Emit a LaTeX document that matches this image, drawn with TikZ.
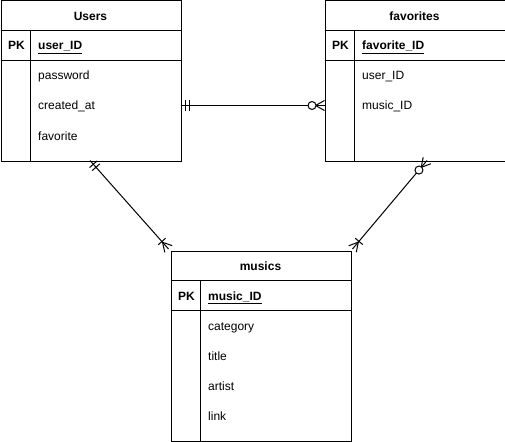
\documentclass[tikz,border=0pt]{standalone}
\usepackage{fontspec}
\setmainfont{Liberation Sans}
\usetikzlibrary{calc}
\tikzset{
  tbl/.style={draw, line width=1pt, minimum width=180pt, inner sep=0pt, anchor=north west},
  ttl/.style={font=\fontsize{12}{14}\selectfont\bfseries, inner sep=0pt},
  fld/.style={font=\fontsize{12}{14}\selectfont, anchor=base west, inner sep=0pt},
  pkl/.style={font=\fontsize{12}{14}\selectfont\bfseries, anchor=base west, inner sep=0pt},
  rel/.style={line width=1pt},
  sep/.style={line width=1pt},
}
\newcommand\erbar[3]{%
  \path ($(#1)!#3!(#2)$) coordinate (erm);
  \draw[rel] ($(erm)!5pt!90:(#2)$) -- ($(erm)!5pt!-90:(#2)$);}
\newcommand\erfoot[2]{%
  \draw[rel] ($(#1)!5pt!90:(#2)$) -- ($(#1)!9pt!(#2)$) -- ($(#1)!5pt!-90:(#2)$);}
\newcommand\ercirc[3]{%
  \path ($(#1)!#3!(#2)$) coordinate (erm);
  \draw[rel,fill=white] (erm) circle (4pt);}
\begin{document}
\begin{tikzpicture}[x=1pt,y=-1pt]
\useasboundingbox (0,0) rectangle (505,441);
% ---------- Users
\node[tbl, minimum height=160pt] (users) at (0.5,0.5) {};
\draw[sep] (0.5,30.5) -- (180.5,30.5);
\draw[sep] (0.5,60.5) -- (180.5,60.5);
\draw[sep] (30.5,30.5) -- (30.5,160.5);
\node[ttl] (usersT) at (90.5,16) {Users};
\node[pkl] (usersPK) at (8,50) {PK};
\node[pkl] (usersId) at (38,50) {\underline{user\_ID}};
\node[fld] (usersPw) at (38,80) {password};
\node[fld] (usersCr) at (38,110) {created\_at};
\node[fld] (usersFv) at (38,140) {favorite};
% ---------- favorites
\node[tbl, minimum height=160pt] (favs) at (324.5,0.5) {};
\draw[sep] (324.5,30.5) -- (504.5,30.5);
\draw[sep] (324.5,60.5) -- (504.5,60.5);
\draw[sep] (354.5,30.5) -- (354.5,160.5);
\node[ttl] (favsT) at (414.5,16) {favorites};
\node[pkl] (favsPK) at (332,50) {PK};
\node[pkl] (favsId) at (362,50) {\underline{favorite\_ID}};
\node[fld] (favsU) at (362,80) {user\_ID};
\node[fld] (favsM) at (362,110) {music\_ID};
% ---------- musics
\node[tbl, minimum height=190pt] (musics) at (170.5,250.5) {};
\draw[sep] (170.5,280.5) -- (350.5,280.5);
\draw[sep] (170.5,310.5) -- (350.5,310.5);
\draw[sep] (200.5,280.5) -- (200.5,440.5);
\node[ttl] (musicsT) at (260.5,266) {musics};
\node[pkl] (musicsPK) at (178,300) {PK};
\node[pkl] (musicsId) at (208,300) {\underline{music\_ID}};
\node[fld] (musicsC) at (208,330) {category};
\node[fld] (musicsTi) at (208,360) {title};
\node[fld] (musicsA) at (208,390) {artist};
\node[fld] (musicsL) at (208,420) {link};
% ---------- connector ends
\coordinate (uR) at (180.5,105.5);
\coordinate (fL) at (324.5,105.5);
\coordinate (uB) at (90,160.5);
\coordinate (mTL) at (168.5,249);
\coordinate (fB) at (427,160.5);
\coordinate (mTR) at (352.5,249);
% Users -- favorites
\draw[rel] (uR) -- (fL);
\erbar{uR}{fL}{5pt}\erbar{uR}{fL}{9pt}
\erfoot{fL}{uR}\ercirc{fL}{uR}{12.5pt}
% Users -- musics
\draw[rel] (uB) -- (mTL);
\erbar{uB}{mTL}{5pt}\erbar{uB}{mTL}{9pt}
\erfoot{mTL}{uB}\erbar{mTL}{uB}{10pt}
% favorites -- musics
\draw[rel] (fB) -- (mTR);
\erfoot{fB}{mTR}\ercirc{fB}{mTR}{12.5pt}
\erfoot{mTR}{fB}\erbar{mTR}{fB}{10pt}
\end{tikzpicture}
\end{document}
